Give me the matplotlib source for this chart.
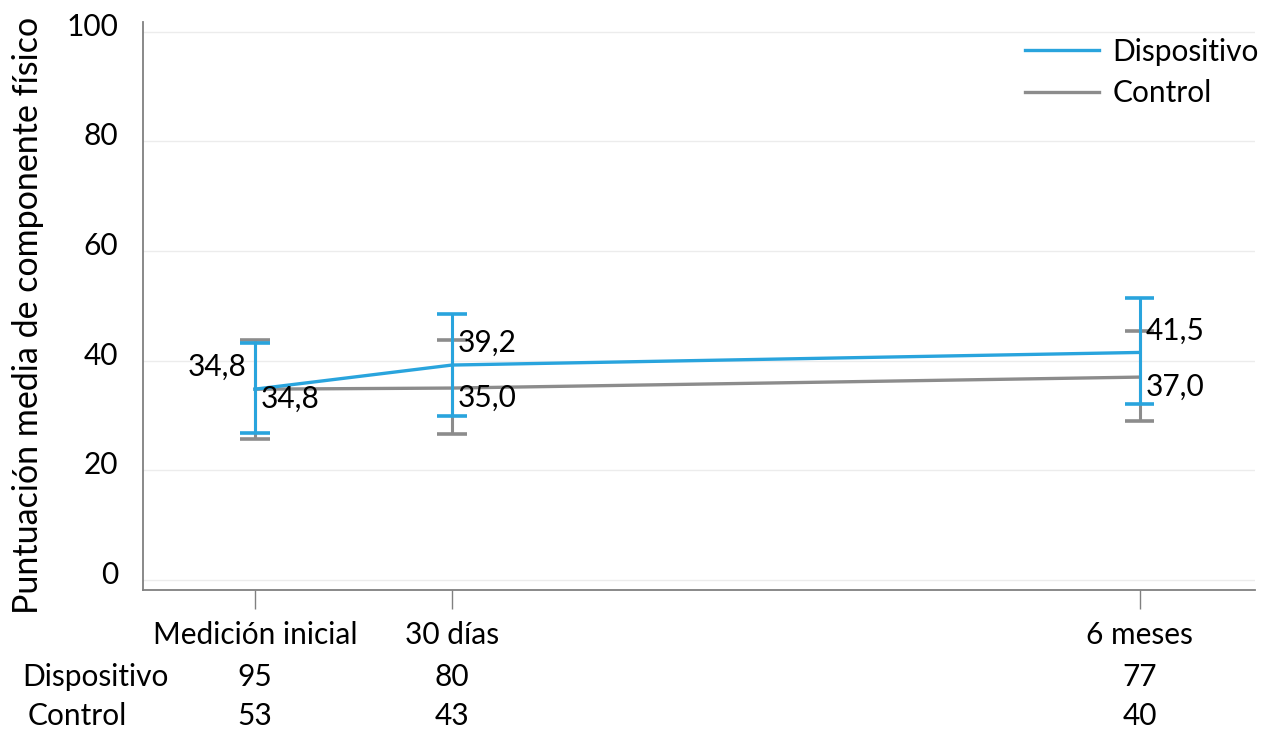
import matplotlib
matplotlib.use("Agg")
import matplotlib.pyplot as plt
from matplotlib.transforms import offset_copy

# Data
timepoints = ["Medición inicial", "30 días", "6 meses"]
groups = ["Dispositivo", "Control"]
disp_mean = [34.8, 39.2, 41.5]
disp_low = [26.8, 29.9, 32.1]
disp_high = [43.2, 48.5, 51.5]
ctrl_mean = [34.8, 35.0, 37.0]
ctrl_low = [25.7, 26.6, 29.0]
ctrl_high = [43.8, 43.8, 45.4]
disp_n = [95, 80, 77]
ctrl_n = [53, 43, 40]

# Layout / style
x_pos = [0.0, 1.0, 4.49]
BLUE = "#29a4dd"
GRAY = "#8c8c8c"
FS = 21.5
plt.rcParams["font.family"] = ["Lato", "DejaVu Sans"]

fig = plt.figure(figsize=(12.7, 7.33), dpi=100)
ax = fig.add_axes([143 / 1270, 1 - 590 / 733, (1255 - 143) / 1270, (590 - 22) / 733])
ax.set_xlim((143 - 255) / 197, (1255 - 255) / 197)
ax.set_ylim(-1.85, 101.8)

for spine in ["top", "right"]:
    ax.spines[spine].set_visible(False)
for spine in ["left", "bottom"]:
    ax.spines[spine].set_color("#808080")
    ax.spines[spine].set_linewidth(1.3)

ax.set_yticks([0, 20, 40, 60, 80, 100])
ax.yaxis.grid(True, color="#ececec", linewidth=1)
ax.set_axisbelow(True)
ax.tick_params(axis="y", length=0, pad=18, labelsize=FS)
for lbl in ax.get_yticklabels():
    lbl.set_verticalalignment("center")
    lbl.set_transform(offset_copy(lbl.get_transform(), fig=fig, x=0, y=5, units="dots"))
ax.set_xticks(x_pos)
ax.set_xticklabels(timepoints)
ax.tick_params(axis="x", direction="out", length=14, width=1, color="#808080",
               labelsize=FS, pad=8)

ax.set_ylabel("Puntuación media de componente físico", fontsize=24.5)
ax.yaxis.set_label_coords((28 - 143) / (1255 - 143), (590 - 315) / (590 - 22))
ax.yaxis.label.set_verticalalignment("center")

cap = 0.075

def draw_bars(means, lows, highs, color, z):
    for x, m, lo, hi in zip(x_pos, means, lows, highs):
        ax.plot([x, x], [lo, hi], color=color, lw=2.2, zorder=z, solid_capstyle="butt")
        ax.plot([x - cap, x + cap], [lo, lo], color=color, lw=2.6, zorder=z, solid_capstyle="butt")
        ax.plot([x - cap, x + cap], [hi, hi], color=color, lw=2.6, zorder=z, solid_capstyle="butt")

draw_bars(ctrl_mean, ctrl_low, ctrl_high, GRAY, 2)
draw_bars(disp_mean, disp_low, disp_high, BLUE, 3)
ax.plot(x_pos, ctrl_mean, color=GRAY, lw=2.4, zorder=2, label="Control")
ax.plot(x_pos, disp_mean, color=BLUE, lw=2.4, zorder=3, label="Dispositivo")

def fmt(v):
    return f"{v:.1f}".replace(".", ",")

# value labels
for i, (x, d, c) in enumerate(zip(x_pos, disp_mean, ctrl_mean)):
    if i == 0:
        ax.annotate(fmt(d), (x, d), xytext=(-8, 22), textcoords="offset pixels",
                    ha="right", va="center", fontsize=FS, zorder=4)
    else:
        ax.annotate(fmt(d), (x, d), xytext=(6, 22), textcoords="offset pixels",
                    ha="left", va="center", fontsize=FS, zorder=4)
    ax.annotate(fmt(c), (x, c), xytext=(6, -10), textcoords="offset pixels",
                ha="left", va="center", fontsize=FS, zorder=4)

handles, labels = ax.get_legend_handles_labels()
leg = ax.legend(handles[::-1], labels[::-1], loc="upper right",
                bbox_to_anchor=(1.0 + 16 / 1112, 1.02 - 15 / 568),
                frameon=False, fontsize=FS, handlelength=2.5, handletextpad=0.45,
                labelspacing=0.45, borderaxespad=0.0)

# sample size table
row_y = [677, 716]
row_x = [95, 77]
for g, ns, ry, rx in zip(groups, [disp_n, ctrl_n], row_y, row_x):
    fig.text(rx / 1270, 1 - ry / 733, g, ha="center", va="center", fontsize=FS)
    for x, n in zip(x_pos, ns):
        xd = ax.transData.transform((x, 0))[0]
        fig.text(xd / 1270, 1 - ry / 733, str(n), ha="center", va="center", fontsize=FS)

fig.savefig("out.png", dpi=100)
